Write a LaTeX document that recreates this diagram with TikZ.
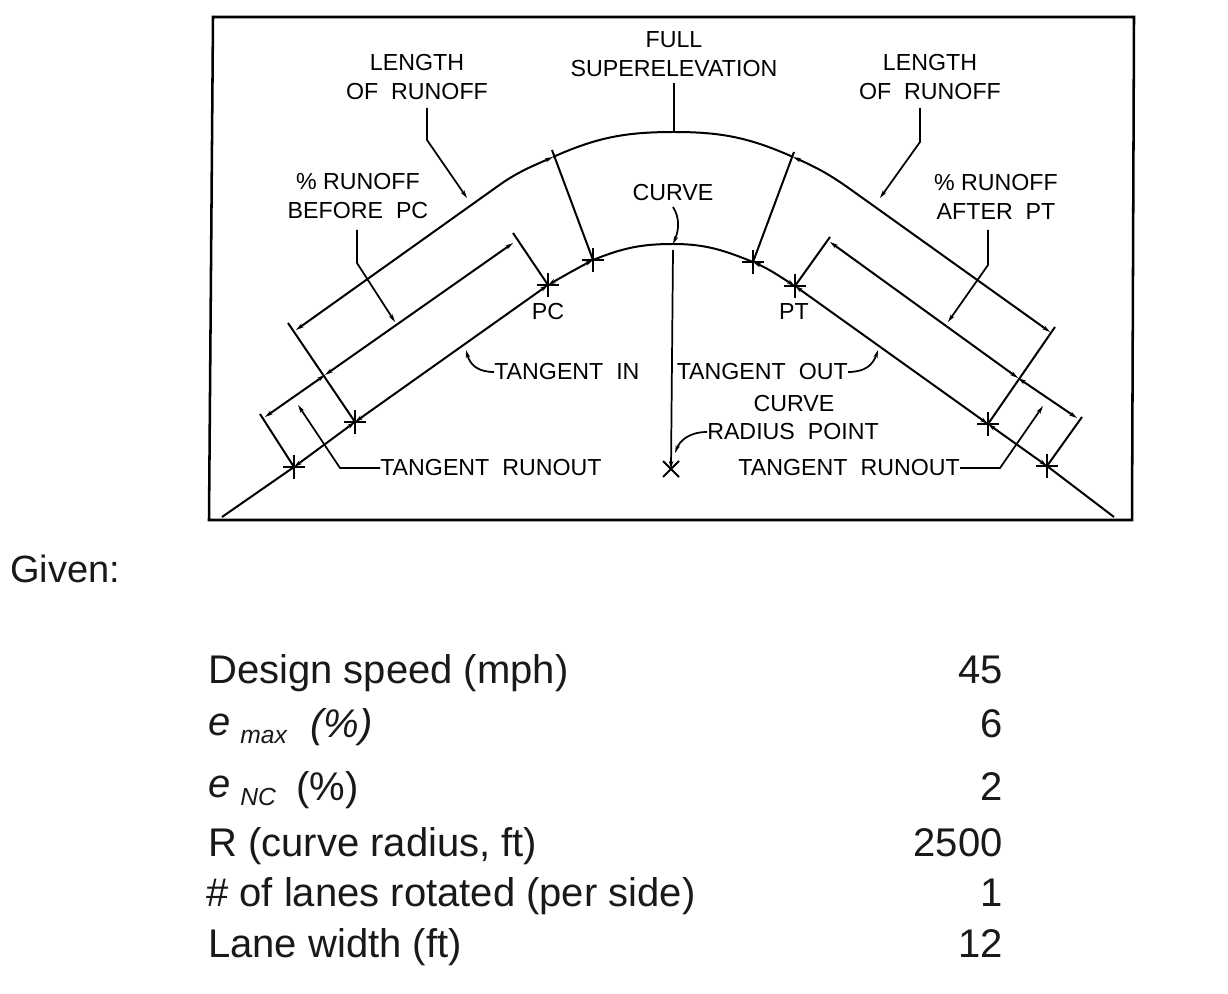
\documentclass[tikz,border=0pt]{standalone}
\usepackage{fontspec}
\setmainfont{Liberation Sans}
\usetikzlibrary{arrows.meta,calc}
\tikzset{
 x=0.75pt,y=-0.75pt,
 cad/.style={font=\fontsize{17.4}{21.6}\selectfont,inner sep=0pt,align=center,text=black},
 tbl/.style={font=\fontsize{30}{34}\selectfont,inner sep=0pt,anchor=base west,text=black!90},
 num/.style={font=\fontsize{30}{34}\selectfont,inner sep=0pt,anchor=base east,text=black!90},
 ln/.style={line width=1.5pt,black},
 dim/.style={line width=1.5pt,black,{Stealth[length=6pt,width=3.2pt]}-{Stealth[length=6pt,width=3.2pt]}},
 lead/.style={line width=1.3pt,black,-{Stealth[length=6pt,width=3.2pt]}},
}
\newcommand{\plusmark}[1]{\draw[line width=1.3pt] ($(#1)+(-11,0)$) -- ($(#1)+(11,0)$) ($(#1)+(0,-12)$) -- ($(#1)+(0,12)$);}
\begin{document}
\begin{tikzpicture}
\useasboundingbox (0,0) rectangle (1228,994);
\fill[white] (0,0) rectangle (1228,994);
% frame
\draw[line width=1.9pt] (213,17) -- (1134,17) -- (1132,520) -- (209,520) -- cycle;
% key points
\coordinate (pc) at (548,285); \coordinate (pt) at (795,286);
\coordinate (cl) at (593,260); \coordinate (cr) at (753,262);
\coordinate (cm) at (673,244);
\coordinate (tl) at (355,422); \coordinate (tr) at (988,424);
\coordinate (rl) at (294,467); \coordinate (rr) at (1047,466);
\coordinate (rad) at (671,469);
\coordinate (oL) at (553,157); \coordinate (oR) at (793,157);
\coordinate (oC) at (674,132);
\coordinate (oLs) at (498,186); \coordinate (oRs) at (850,189);
\coordinate (topL) at (296,330); \coordinate (topR) at (1050,332);
\coordinate (midLa) at (265,417); \coordinate (midLb) at (513,243);
\coordinate (midLx) at (325,375);
\coordinate (midRa) at (830,242); \coordinate (midRb) at (1077,418);
\coordinate (midRx) at (1018,378);
\coordinate (eL) at (222,517); \coordinate (eR) at (1114,517);
% centre line and tangents
\draw[ln] (eL) -- (rl);
\draw[dim] (rl) -- (tl);
\draw[dim] (tl) -- (pc);
\draw[dim] (pc) to[out=30,in=208] (cl);
\draw[ln] (cl) to[out=22,in=180] (cm) to[out=0,in=158] (cr);
\draw[dim] (cr) to[out=-24,in=148] (pt);
\draw[dim] (pt) -- (tr);
\draw[dim] (tr) -- (rr);
\draw[ln] (rr) -- (eR);
% outer edge
\draw[dim] (topL) -- (oLs) to[out=35.5,in=204] (oL);
\draw[ln] (oL) to[out=24,in=180] (oC) to[out=0,in=156] (oR);
\draw[dim] (oR) to[out=-24,in=144.5] (oRs) -- (topR);
% second parallel lines
\draw[dim] (midLa) -- (midLx);
\draw[dim] (midLx) -- (midLb);
\draw[dim] (midRa) -- (midRx);
\draw[dim] (midRx) -- (midRb);
% ticks
\draw[ln] (288,323) -- (tl);
\draw[ln] (260,414) -- (rl);
\draw[ln] (513,233) -- (pc);
\draw[ln] (830,237) -- (pt);
\draw[ln] (1055,327) -- (tr);
\draw[ln] (1082,417) -- (rr);
\draw[ln] (552,150) -- (cl);
\draw[ln] (794,152) -- (cr);
% crosses
\foreach \p in {pc,pt,cl,cr,tl,tr,rl,rr} {\plusmark{\p}}
\draw[line width=1.4pt] ($(rad)+(-8,-8)$) -- ($(rad)+(8,8)$) ($(rad)+(8,-8)$) -- ($(rad)+(-8,8)$);
\draw[lead] (673,250) -- (rad);
% labels
\node[cad] (lenL) at (417,77) {LENGTH\\OF\ \ RUNOFF};
\node[cad] (full) at (674,54) {FULL\\SUPERELEVATION};
\node[cad] (lenR) at (930,77) {LENGTH\\OF\ \ RUNOFF};
\node[cad] (pctL) at (358,196) {\%\ RUNOFF\\BEFORE\ \ PC};
\node[cad] (pctR) at (996,197) {\%\ RUNOFF\\AFTER\ \ PT};
\node[cad] (curve) at (673,193) {CURVE};
\node[cad] (pcl) at (548,312) {PC};
\node[cad] (ptl) at (794,312) {PT};
\node[cad,anchor=west] (tin) at (494,372) {TANGENT\ \ IN};
\node[cad,anchor=east] (tout) at (848,372) {TANGENT\ \ OUT};
\node[cad] (crp) at (794,404) {CURVE};
\node[cad,anchor=west] (rp) at (707,432) {RADIUS\ \ POINT};
\node[cad,anchor=west] (trl) at (380,468) {TANGENT\ \ RUNOUT};
\node[cad,anchor=east] (trr) at (960,468) {TANGENT\ \ RUNOUT};
% leaders
\coordinate (lenLa) at (427,108); \coordinate (lenRa) at (920,108);
\coordinate (pctLa) at (357,230); \coordinate (pctRa) at (988,230);
\coordinate (fullA) at (674,83);
\draw[lead] (lenLa) -- (427,140) -- (467,198);
\draw[lead] (lenRa) -- (920,142) -- (880,198);
\draw[ln] (fullA) -- (oC);
\draw[lead] (pctLa) -- (357,263) -- (395,322);
\draw[lead] (pctRa) -- (988,265) -- (948,322);
\draw[lead] (673,207) .. controls (680,218) and (679,230) .. (cm);
\draw[lead] (tin.west) .. controls (478,372) and (470,365) .. (466,350);
\draw[lead] (tout.east) .. controls (865,372) and (873,365) .. (878,350);
\draw[lead] (rp.west) .. controls (690,432) and (680,440) .. (675,453);
\draw[lead] (trl.west) -- (340,468) -- (298,405);
\draw[lead] (trr.east) -- (1000,468) -- (1043,406);
% table
\node[font=\fontsize{28.5}{32}\selectfont,inner sep=0pt,anchor=base west,text=black!90] (given) at (10,582) {Given:};
\node[tbl] (t1) at (208,683) {Design speed (mph)};
\node[tbl] (t2) at (208,735) {\itshape e};
\node[tbl,font=\fontsize{18.5}{22}\selectfont\itshape] (t2s) at (240,743) {max};
\node[tbl] (t2p) at (310,737) {\itshape (\%)};
\node[tbl] (t3) at (208,797) {\itshape e};
\node[tbl,font=\fontsize{18.5}{22}\selectfont\itshape] (t3s) at (240,805) {NC};
\node[tbl] (t3p) at (296,800) {(\%)};
\node[tbl] (t4) at (208,856) {R (curve radius, ft)};
\node[tbl] (t5) at (206,906) {\# of lanes rotated (per side)};
\node[tbl] (t6) at (208,957) {Lane width (ft)};
\node[num] at (1003,683) {45};
\node[num] at (1003,737) {6};
\node[num] at (1003,800) {2};
\node[num] at (1003,856) {2500};
\node[num] at (1003,906) {1};
\node[num] at (1003,957) {12};
\end{tikzpicture}
\end{document}
